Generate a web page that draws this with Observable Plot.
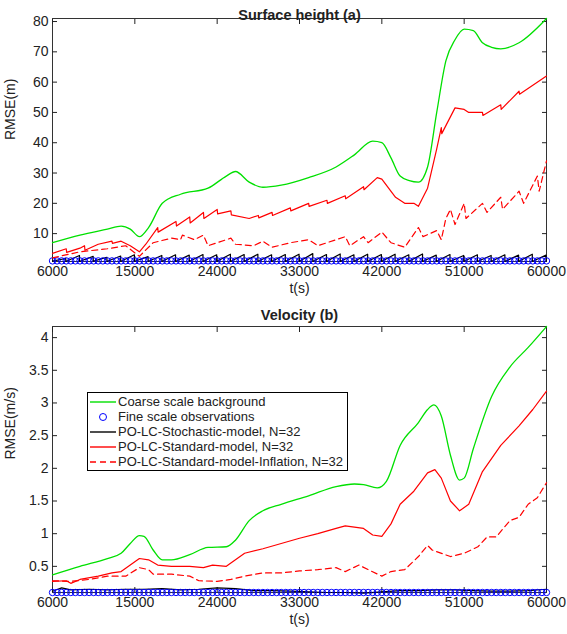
<!DOCTYPE html>
<html><head><meta charset="utf-8">
<script src="https://cdn.jsdelivr.net/npm/d3@7"></script>
<script src="https://cdn.jsdelivr.net/npm/@observablehq/plot@0.6"></script>
<style>
body{margin:0;background:#fff;font-family:"Liberation Sans",Arial,sans-serif}
#wrap{position:relative;width:567px;height:634px}
svg{overflow:visible}
.legend{position:absolute;left:87px;top:392px;border:1px solid #000;background:#fff;font-size:13px;padding:1px 4px 1px 2px;line-height:15px;color:#222}
.legend div{display:flex;align-items:center;white-space:nowrap}
.legend svg{margin-right:2px}
</style></head><body>
<div id="wrap"><div id="c1"></div><div id="c2"></div>
<div class="legend">
<div><svg width="26" height="10"><line x1="0" x2="26" y1="5" y2="5" stroke="#00e000" stroke-width="1.4"/></svg>Coarse scale background</div>
<div><svg width="26" height="10"><circle cx="13" cy="5" r="3.5" fill="none" stroke="#0000ff"/></svg>Fine scale observations</div>
<div><svg width="26" height="10"><line x1="0" x2="26" y1="5" y2="5" stroke="#000" stroke-width="1.4"/></svg>PO-LC-Stochastic-model, N=32</div>
<div><svg width="26" height="10"><line x1="0" x2="26" y1="5" y2="5" stroke="#f00" stroke-width="1.4"/></svg>PO-LC-Standard-model, N=32</div>
<div><svg width="26" height="10"><line x1="0" x2="26" y1="5" y2="5" stroke="#f00" stroke-width="1.4" stroke-dasharray="6,4"/></svg>PO-LC-Standard-model-Inflation, N=32</div>
</div></div>
<script>
// ---- Surface height (a)
const hGreenT = [6000,9000,12000,13500,14500,15500,16500,18000,20000,23000,25000,26000,27500,29000,31000,34000,37000,39000,41000,42000,43000,44000,45000,46000,47000,48000,49000,50000,51000,52000,53000,54000,55000,57000,60000];
const hGreenV = [7,9.5,11.5,12.5,11.5,9,12,20,23,25,29,30.5,27,25.3,26,28.5,32,36,40.5,40,35,29,27.5,27,32,50,67,74,77.5,77,73,71.5,71,73,81];
const hRedT = [6000,7500,7550,9000,9500,9550,11000,12500,12550,13500,14500,15500,16200,17500,17550,19500,19550,21000,21050,22500,22550,24000,24050,25500,25550,27500,28500,28550,30000,30050,32000,32050,34000,34050,36000,36050,38000,38050,40000,40050,41500,42000,43500,44500,45500,46000,47000,48000,48500,48550,50000,51000,51500,53000,53050,55000,55050,57000,57050,60000];
const hRedV = [3.5,5,3.8,5.2,6,4.5,6.5,7.5,6.8,7.5,6,4,6.5,12,10.5,14,12.5,15.5,13.5,17,15,18,16.5,17.5,16.2,15,16,15.2,17,16,18.5,17.5,20,19,21,20,22.5,21.5,25.5,24.5,28.5,28,22,20,20,19,25,38,45,43,51.5,51,50,50,49,52.5,51,57,56,62];
const hDashT = [6000,9000,12000,14000,15500,17000,19000,20000,20200,21500,22500,23000,24000,25500,26000,28000,29000,30000,32000,34000,35000,37000,38000,38500,40000,40500,42000,43000,44500,46000,46500,48000,48500,49000,49500,50000,51000,51200,53000,53500,55000,55200,57000,57500,59000,59200,60000];
const hDashV = [2,4,5,6,2.5,7,8.5,8,9.5,8,9.5,6,7,8.5,6.5,6,7.5,5.5,7,8,6,8,9,6,9,7,10.5,7,5.5,12,9,11,8,15,18,13,20,15,20,17,22,18,24,20,29,24,34];
const hBlackPeaks = [1.8,2.8,2.5,2.2,2.6,3,2.4,2.8,3,2.9,3.1,3,3.2,3.1,3.2,3,3.1,3.2,3.4,3.1,3.3,3,3.2,3.1,3.2,3,3.3,2.9,3.1,2.8,3,2.8,3,2.9,3.2,2.9];
const hObs = 1;
// ---- Velocity (b)
const vGreenT = [6000,9000,12000,13500,14500,15500,16000,17000,18000,19000,21000,23000,25000,26000,27500,29000,31000,34000,37000,39000,40000,41500,42500,44000,46000,47000,47700,48500,49500,50500,51000,52000,54000,56000,58000,60000];
const vGreenV = [0.37,0.5,0.62,0.7,0.85,0.97,0.96,0.75,0.6,0.6,0.68,0.79,0.8,0.9,1.2,1.35,1.45,1.58,1.72,1.76,1.75,1.7,1.8,2.35,2.7,2.9,2.97,2.8,2.2,1.82,1.85,2.3,3.1,3.55,3.85,4.17];
const vRedT = [6000,7500,8000,9000,11000,12500,13500,14500,15500,16500,17500,19000,21000,22500,23500,25000,27000,29000,31000,33000,35000,37000,38000,40000,41000,42000,43000,44000,45500,47000,47800,48500,49500,50500,51500,53000,55000,57000,58500,60000];
const vRedV = [0.27,0.28,0.24,0.3,0.35,0.4,0.42,0.52,0.62,0.6,0.52,0.5,0.5,0.48,0.52,0.5,0.7,0.77,0.85,0.93,1.0,1.08,1.12,1.08,0.98,0.96,1.15,1.45,1.65,1.93,1.98,1.85,1.5,1.35,1.45,1.95,2.35,2.65,2.9,3.18];
const vDashT = [6000,8000,10000,12000,14000,15500,16500,17000,19000,21000,22000,24000,25500,27000,29000,31000,33000,35000,37000,38000,39500,40500,42000,43000,44500,46000,47000,47500,49500,51000,52500,53500,54500,56000,57000,58000,59000,60000];
const vDashV = [0.28,0.27,0.3,0.35,0.35,0.48,0.45,0.38,0.38,0.35,0.28,0.27,0.3,0.35,0.4,0.4,0.43,0.45,0.48,0.42,0.52,0.45,0.35,0.42,0.45,0.65,0.82,0.75,0.65,0.7,0.8,0.95,0.95,1.2,1.25,1.45,1.55,1.78];
const vBlackT = [6000,7000,8000,10000,12000,14000,16000,18000,20000,22000,24000,26000,28000,30000,32000,34000,36000,38000,40000,42000,44000,46000,48000,50000,52000,54000,56000,58000,60000];
const vBlackV = [0.12,0.17,0.14,0.15,0.14,0.15,0.15,0.16,0.14,0.15,0.17,0.16,0.13,0.13,0.12,0.11,0.1,0.1,0.09,0.11,0.13,0.13,0.14,0.14,0.13,0.12,0.12,0.13,0.15];
const vObs = 0.1;

const obsT = d3.range(6000, 60001, 500);
const xTicks = [6000,15000,24000,33000,42000,51000,60000];
const pts = (T, V) => T.map((t, i) => ({t, v: V[i]}));
const blackH = hBlackPeaks.flatMap((p, i) => {
  const t0 = 6000 + i * 1500;
  return [{t: t0, v: 0.9}, {t: t0 + 1450, v: p}, {t: t0 + 1451, v: 0.9}];
}).filter(d => d.t <= 60000);

function chart(opts) {
  return Plot.plot({
    width: 567, height: opts.height,
    marginLeft: 52, marginRight: 21, marginTop: opts.mt, marginBottom: opts.mb,
    style: {fontFamily: "Liberation Sans, Arial, sans-serif", fontSize: "14px", color: "#222", overflow: "visible"},
    x: {domain: [6000, 60000]},
    y: {domain: opts.yDomain},
    marks: [
      Plot.frame({stroke: "#333"}),
      Plot.axisX({ticks: xTicks, tickSize: -5, tickFormat: d => String(d), label: null, tickPadding: 10, fontSize: 14}),
      Plot.axisX({ticks: xTicks, tickSize: -5, anchor: "top", label: null, tickFormat: () => ""}),
      Plot.axisY({ticks: opts.yTicks, tickSize: -5, tickFormat: d => String(d), label: null, tickPadding: 9, fontSize: 14}),
      Plot.axisY({ticks: opts.yTicks, tickSize: -5, anchor: "right", label: null, tickFormat: () => ""}),
      Plot.text([opts.title], {frameAnchor: "top", dy: -opts.mt + 9, text: d => d, fontWeight: "bold", fontSize: 14.5}),
      Plot.text(["t(s)"], {frameAnchor: "bottom", dy: 31, text: d => d, fontSize: 14}),
      Plot.text([opts.ylabel], {frameAnchor: "left", dx: -42, rotate: -90, text: d => d, fontSize: 14}),
      Plot.line(opts.black, {x: "t", y: "v", stroke: "#000", strokeWidth: 1.2}),
      Plot.dot(obsT, {x: d => d, y: () => opts.obs, r: 3.2, stroke: "#0000ff", strokeWidth: 1}),
      Plot.line(opts.dash, {x: "t", y: "v", stroke: "#ff0000", strokeWidth: 1.2, strokeDasharray: "6,4"}),
      Plot.line(opts.red, {x: "t", y: "v", stroke: "#ff0000", strokeWidth: 1.2}),
      Plot.line(opts.green, {x: "t", y: "v", stroke: "#00e000", strokeWidth: 1.3, curve: "monotone-x"})
    ]
  });
}

document.getElementById("c1").append(chart({
  height: 300, mt: 18, mb: 39, yDomain: [0.8, 81], yTicks: [10,20,30,40,50,60,70,80],
  title: "Surface height (a)", ylabel: "RMSE(m)", obs: hObs,
  green: pts(hGreenT, hGreenV), red: pts(hRedT, hRedV), dash: pts(hDashT, hDashV), black: blackH
}));
document.getElementById("c2").append(chart({
  height: 334, mt: 26, mb: 42, yDomain: [0.1, 4.17], yTicks: [0.5,1,1.5,2,2.5,3,3.5,4],
  title: "Velocity (b)", ylabel: "RMSE(m/s)", obs: vObs,
  green: pts(vGreenT, vGreenV), red: pts(vRedT, vRedV), dash: pts(vDashT, vDashV), black: pts(vBlackT, vBlackV)
}));
</script></body></html>
